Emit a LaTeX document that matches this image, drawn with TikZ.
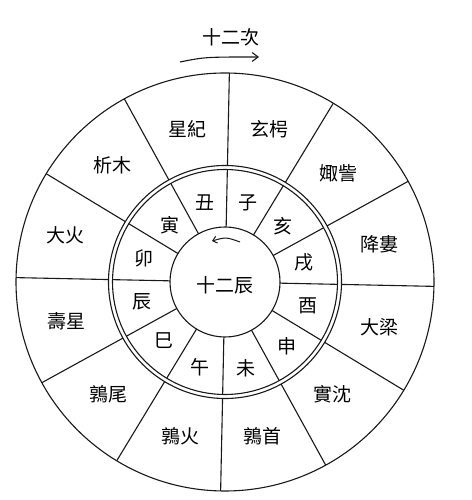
\documentclass[tikz,border=0pt]{standalone}
\usepackage{fontspec}
\setmainfont{Noto Sans CJK TC}
\usetikzlibrary{arrows.meta}
\tikzset{
  ringline/.style={line width=1.1pt, black!90},
  outerlbl/.style={font=\fontsize{19}{19}\selectfont, inner sep=0pt, black},
  innerlbl/.style={font=\fontsize{19}{19}\selectfont, inner sep=0pt, black},
  arrowline/.style={line width=1.1pt, black!90, -{Straight Barb[length=6pt,width=9pt]}}
}
\begin{document}
\begin{tikzpicture}[x=1pt,y=1pt]
\useasboundingbox (0,0) rectangle (471,500);
\fill[white] (0,0) rectangle (471,500);
\def\rot{-1.2}
\begin{scope}[shift={(225,218)}]
  % circles
  \draw[ringline] (0,0) circle (209);
  \draw[ringline] (0,0) circle (116.5);
  \draw[ringline] (0,0) circle (112.5);
  \draw[ringline] (0,0) circle (55);
  % radial lines
  \foreach \k in {0,...,11}{
    \pgfmathsetmacro{\a}{30*\k+\rot}
    \draw[ringline] (\a:116.5) -- (\a:209);
    \draw[ringline] (\a:55) -- (\a:112.5);
  }
  % outer labels
  \node[outerlbl] (o1)  at (75+\rot:159)   {玄枵};
  \node[outerlbl] (o2)  at (45+\rot:157)   {娵訾};
  \node[outerlbl] (o3)  at (15+\rot:159)   {降婁};
  \node[outerlbl] (o4)  at (-15+\rot:161)  {大梁};
  \node[outerlbl] (o5)  at (-45+\rot:156)  {實沈};
  \node[outerlbl] (o6)  at (-75+\rot:159)  {鶉首};
  \node[outerlbl] (o7)  at (-105+\rot:161) {鶉火};
  \node[outerlbl] (o8)  at (-135+\rot:162) {鶉尾};
  \node[outerlbl] (o9)  at (-165+\rot:163) {壽星};
  \node[outerlbl] (o10) at (165+\rot:166)  {大火};
  \node[outerlbl] (o11) at (135+\rot:162)  {析木};
  \node[outerlbl] (o12) at (105+\rot:157)  {星紀};
  % middle labels
  \node[innerlbl] (m1)  at (75+\rot:82)   {子};
  \node[innerlbl] (m2)  at (45+\rot:80)   {亥};
  \node[innerlbl] (m3)  at (15+\rot:81)   {戌};
  \node[innerlbl] (m4)  at (-15+\rot:86)  {酉};
  \node[innerlbl] (m5)  at (-45+\rot:89)  {申};
  \node[innerlbl] (m6)  at (-75+\rot:89)  {未};
  \node[innerlbl] (m7)  at (-105+\rot:89) {午};
  \node[innerlbl] (m8)  at (-135+\rot:85) {巳};
  \node[innerlbl] (m9)  at (-165+\rot:85) {辰};
  \node[innerlbl] (m10) at (165+\rot:84)  {卯};
  \node[innerlbl] (m11) at (135+\rot:79)  {寅};
  \node[innerlbl] (m12) at (105+\rot:82)  {丑};
  % centre
  \node[innerlbl] (ctr) at (0,-3) {十二辰};
\end{scope}
% title and arrows
\node[outerlbl] (title) at (231,463) {十二次};
\coordinate (a1) at (180,438);
\coordinate (a2) at (259,443);
\draw[arrowline] (a1) .. controls (205,443) .. (a2);
\coordinate (b1) at (240,258);
\coordinate (b2) at (212,259);
\draw[line width=1pt, black!90, -{Straight Barb[length=4pt,width=7pt]}] (b1) .. controls (226,263) .. (b2);
\end{tikzpicture}
\end{document}
